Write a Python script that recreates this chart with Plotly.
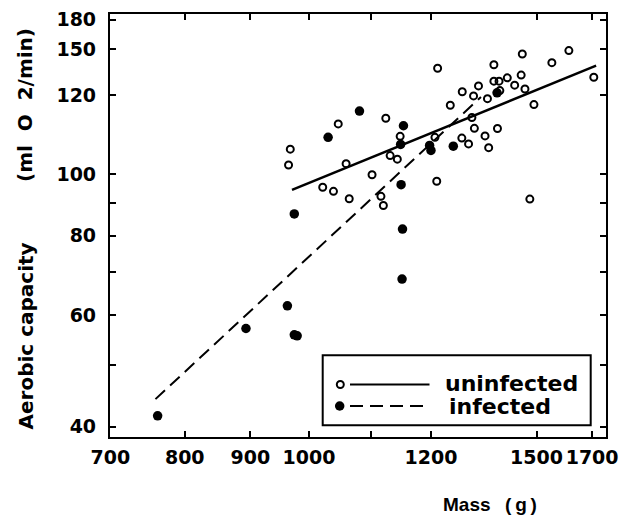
import plotly.graph_objects as go
import math

# ---- data ----
uninfected_mass = [967, 964, 1054, 1069, 1025, 1045, 1075, 1120, 1148, 1260, 1178, 1157, 1172,
                   1254, 1258, 1138, 1143, 1289, 1317, 1344, 1356, 1340, 1346, 1316, 1332, 1378,
                   1394, 1394, 1407, 1409, 1428, 1447, 1464, 1467, 1474, 1498, 1547, 1595, 1668,
                   1372, 1381, 1403, 1487]
uninfected_cap = [109.4, 103.3, 119.9, 103.8, 95.3, 93.9, 91.4, 99.7, 122.4, 146.7, 114.6, 106.9,
                  105.5, 114.2, 97.4, 92.2, 89.2, 128.3, 134.7, 132.7, 137.6, 122.7, 118.0, 113.9,
                  111.5, 131.4, 148.6, 140.0, 140.0, 135.3, 141.7, 138.0, 143.1, 154.5, 136.1,
                  128.6, 149.7, 156.4, 142.0, 114.8, 110.0, 117.9, 91.3]

infected_mass = [1095, 1035, 1185, 1179, 1180, 974, 1183, 1242, 1245, 1296, 1402, 1182, 962,
                 893, 974, 979, 762]
infected_cap = [125.6, 114.2, 119.1, 111.3, 96.2, 86.5, 81.9, 110.9, 108.9, 110.6, 134.2, 68.3,
                62.0, 57.1, 55.8, 55.6, 41.6]

fit_uninfected_mass = [970, 1675]
fit_uninfected_cap = [94.4, 148.1]
fit_infected_mass = [759, 1362]
fit_infected_cap = [44.2, 132.2]

x_tickvals = [700, 800, 900, 1000, 1118, 1245, 1505, 1663]
x_ticktext = ["700", "800", "900", "1000", "", "1200", "1500", "1700"]
y_tickvals = [40, 50, 60, 70, 80, 90, 100, 133.2, 157.1, 175.0]
y_ticktext = ["40", "", "60", "", "80", "", "100", "120", "150", "180"]

legend_labels = ["uninfected", "infected"]

# ---- figure ----
# the page body adds an 8px margin, so the figure is sized/shifted to compensate
OFF = 8
W, H = 620, 509
ML, MR, MT, MB = 102, 22, 6, 80
pw, ph = W - ML - MR, H - MT - MB


def px_x(p):
    return (p - OFF - ML) / pw


def px_y(p):
    return (H - MB - (p - OFF)) / ph


fig = go.Figure()
fig.add_trace(go.Scatter(x=fit_uninfected_mass, y=fit_uninfected_cap, mode="lines",
                         line=dict(color="black", width=2.5), showlegend=False))
fig.add_trace(go.Scatter(x=fit_infected_mass, y=fit_infected_cap, mode="lines",
                         line=dict(color="black", width=2, dash="13px,7px"), showlegend=False))
fig.add_trace(go.Scatter(x=uninfected_mass, y=uninfected_cap, mode="markers",
                         marker=dict(symbol="circle-open", size=7, color="black",
                                     line=dict(width=2, color="black")),
                         showlegend=False))
fig.add_trace(go.Scatter(x=infected_mass, y=infected_cap, mode="markers",
                         marker=dict(symbol="circle", size=9.5, color="black",
                                     line=dict(width=0)),
                         showlegend=False))

tick_font = dict(family="DejaVu Sans", size=19, color="black", weight="bold")
axis_common = dict(showline=True, linewidth=2.2, linecolor="black", mirror="ticks",
                   ticks="inside", ticklen=6, tickwidth=1.5, tickcolor="black",
                   showgrid=False, zeroline=False, tickfont=tick_font,
                   automargin=False, tickangle=0)

fig.update_xaxes(type="log", range=[math.log10(699.5), math.log10(1705)],
                 tickmode="array", tickvals=x_tickvals, ticktext=x_ticktext,
                 ticklabelstandoff=2, ticklabeloverflow="allow", **axis_common)
fig.update_yaxes(type="log", range=[math.log10(38.53), math.log10(178.6)],
                 tickmode="array", tickvals=y_tickvals, ticktext=y_ticktext,
                 ticklabelstandoff=8, ticklabeloverflow="allow", **axis_common)

annotations = [
    dict(text="Aerobic capacity", xref="paper", yref="paper", x=px_x(25), y=px_y(336.5),
         textangle=-90, showarrow=False, xanchor="center", yanchor="middle",
         font=dict(family="DejaVu Sans", size=20, color="black", weight="bold")),
    dict(text="(ml\u00a0 O\u00a0 2/min)", xref="paper", yref="paper", x=px_x(25), y=px_y(105),
         textangle=-90, showarrow=False, xanchor="center", yanchor="middle",
         font=dict(family="DejaVu Sans", size=20, color="black", weight="bold")),
    dict(text="Mass", xref="paper", yref="paper", x=px_x(466.5), y=px_y(504),
         showarrow=False, xanchor="center", yanchor="middle",
         font=dict(family="Liberation Sans", size=19, color="black", weight="bold")),
    dict(text="(\u2009g\u2009)", xref="paper", yref="paper", x=px_x(521), y=px_y(504),
         showarrow=False, xanchor="center", yanchor="middle",
         font=dict(family="Liberation Sans", size=19, color="black", weight="bold")),
    dict(text=legend_labels[0], xref="paper", yref="paper", x=px_x(443), y=px_y(383),
         showarrow=False, xanchor="left", yanchor="middle",
         font=dict(family="DejaVu Sans", size=22, color="black", weight="bold")),
    dict(text=legend_labels[1], xref="paper", yref="paper", x=px_x(447), y=px_y(406),
         showarrow=False, xanchor="left", yanchor="middle",
         font=dict(family="DejaVu Sans", size=22, color="black", weight="bold")),
]

shapes = [
    # legend box
    dict(type="rect", xref="paper", yref="paper", x0=px_x(322.7), x1=px_x(590.7),
         y0=px_y(425.3), y1=px_y(355.3), line=dict(color="black", width=2),
         fillcolor="white", layer="above"),
    # legend line samples
    dict(type="line", xref="paper", yref="paper", x0=px_x(350), x1=px_x(429.5),
         y0=px_y(384.5), y1=px_y(384.5), line=dict(color="black", width=2), layer="above"),
    dict(type="line", xref="paper", yref="paper", x0=px_x(350), x1=px_x(430),
         y0=px_y(406), y1=px_y(406), line=dict(color="black", width=2, dash="13px,7px"),
         layer="above"),
    # legend marker samples
    dict(type="circle", xref="paper", yref="paper", xsizemode="pixel", ysizemode="pixel",
         xanchor=px_x(340.3), yanchor=px_y(384.5), x0=-3.5, x1=3.5, y0=-3.5, y1=3.5,
         line=dict(color="black", width=2), fillcolor="white", layer="above"),
    dict(type="circle", xref="paper", yref="paper", xsizemode="pixel", ysizemode="pixel",
         xanchor=px_x(339.7), yanchor=px_y(406), x0=-4.75, x1=4.75, y0=-4.75, y1=4.75,
         line=dict(color="black", width=0), fillcolor="black", layer="above"),
]

fig.update_layout(width=W, height=H, margin=dict(l=ML, r=MR, t=MT, b=MB),
                  paper_bgcolor="white", plot_bgcolor="white", showlegend=False,
                  annotations=annotations, shapes=shapes)

fig.write_html("out.html")
